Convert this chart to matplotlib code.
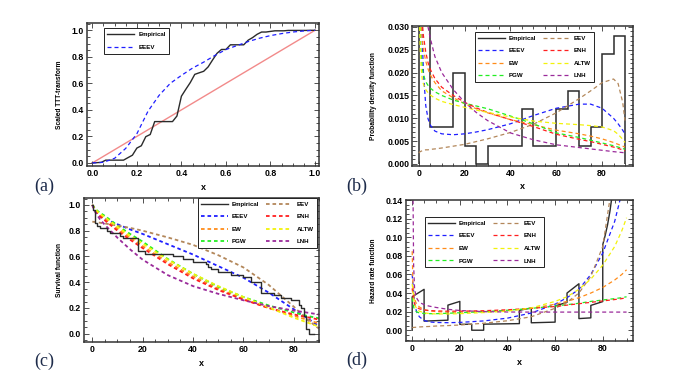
import matplotlib
matplotlib.use('Agg')
import matplotlib.pyplot as plt
from matplotlib.ticker import MultipleLocator, FormatStrFormatter
from matplotlib.lines import Line2D

plt.rcParams['font.family'] = ['Liberation Sans', 'DejaVu Sans']

# ---------------- (a) scaled TTT transform ----------------
ttt_emp_x = [i / 50 for i in range(51)]
ttt_emp_y = [0, 0.0022, 0.0043, 0.0211, 0.0211, 0.0211, 0.0211, 0.0211, 0.0400, 0.0584,
             0.1122, 0.1297, 0.1980, 0.2146, 0.3118, 0.3118, 0.3118, 0.3118, 0.3118, 0.3539,
             0.5031, 0.5557, 0.6064, 0.6677, 0.6796, 0.6909, 0.7238, 0.7763, 0.8266, 0.8555,
             0.8555, 0.8906, 0.8906, 0.8906, 0.8906, 0.9256, 0.9453, 0.9698, 0.9869, 0.9869,
             0.9917, 0.9961, 0.9961, 0.9961, 0.9991, 0.9991, 0.9991, 0.9991, 0.9991, 1.0, 1.0]
ttt_fit_x = [0, 0.05, 0.1, 0.15, 0.2, 0.25, 0.3, 0.35, 0.4, 0.45, 0.5, 0.55, 0.6, 0.65, 0.7,
             0.75, 0.8, 0.85, 0.9, 0.95, 1.0]
ttt_eeev = [0, 0.005, 0.035, 0.11, 0.22, 0.39, 0.51, 0.60, 0.66, 0.715, 0.76, 0.81, 0.855,
            0.885, 0.915, 0.94, 0.96, 0.975, 0.987, 0.995, 1.0]
diag_x = [0, 1]
diag_y = [0, 1]

# ---------------- (b) density ----------------
hist_edges = [0, 5, 10, 15, 20, 25, 30, 35, 40, 45, 50, 55, 60, 65, 70, 75, 80, 85, 90]
hist_dens = [0.036, 0.008, 0.008, 0.020, 0.004, 0.0, 0.004, 0.004, 0.004, 0.012, 0.004,
             0.004, 0.012, 0.016, 0.004, 0.008, 0.024, 0.028]
pdf_x = [0, 0.3, 0.6, 1, 1.5, 2, 3, 4, 5, 7, 10, 15, 20, 25, 30, 40, 50, 60, 70, 75, 80, 85, 87, 89, 90]
pdf_eeev = [0.3, 0.09, 0.06, 0.04, 0.027, 0.02, 0.0128, 0.0099, 0.0085, 0.0072, 0.0066, 0.0064,
            0.0066, 0.0070, 0.0075, 0.0088, 0.0106, 0.0122, 0.0131, 0.0131, 0.0122, 0.0100,
            0.0088, 0.0074, 0.0066]
pdf_eev = [0.0024, 0.0026, 0.0027, 0.0028, 0.0029, 0.0030, 0.0031, 0.0031, 0.0032, 0.0033,
           0.0035, 0.0039, 0.0043, 0.0049, 0.0055, 0.0069, 0.0087, 0.0112, 0.0143, 0.0160,
           0.0178, 0.0186, 0.0176, 0.0135, 0.0095]
pdf_ew = [0.2, 0.05, 0.038, 0.031, 0.027, 0.025, 0.0225, 0.0208, 0.0195, 0.0178, 0.016, 0.0145,
          0.0132, 0.0121, 0.0112, 0.0097, 0.0086, 0.0074, 0.0066, 0.0061, 0.0055, 0.0047,
          0.0043, 0.0039, 0.0037]
pdf_enh = [0.2, 0.06, 0.045, 0.036, 0.031, 0.028, 0.0245, 0.0222, 0.0207, 0.0187, 0.0168, 0.015,
           0.0135, 0.0123, 0.0113, 0.0097, 0.0082, 0.0065, 0.0054, 0.0049, 0.0043, 0.0037,
           0.0034, 0.0031, 0.0029]
pdf_pgw = [0.2, 0.035, 0.028, 0.024, 0.021, 0.0195, 0.018, 0.0172, 0.0166, 0.0158, 0.015, 0.014,
           0.0133, 0.0127, 0.0121, 0.0105, 0.0088, 0.0068, 0.0058, 0.0052, 0.0046, 0.0040,
           0.0037, 0.0034, 0.0032]
pdf_altw = [0.2, 0.032, 0.025, 0.021, 0.0185, 0.0175, 0.0163, 0.0156, 0.0151, 0.0144, 0.0137,
            0.013, 0.0124, 0.0118, 0.0113, 0.0103, 0.0094, 0.0089, 0.0086, 0.0084, 0.0081,
            0.0073, 0.0065, 0.0054, 0.0047]
pdf_lnh = [0.3, 0.12, 0.075, 0.055, 0.045, 0.04, 0.034, 0.030, 0.0275, 0.0235, 0.0200, 0.0163,
           0.0135, 0.0113, 0.0095, 0.0068, 0.0053, 0.0042, 0.0036, 0.0033, 0.0030, 0.0027,
           0.0026, 0.0025, 0.0024]

# ---------------- (c) survival ----------------
surv_emp_x = [0, 0.1, 0.2, 1, 2, 3, 6, 7, 11, 12, 18, 21, 32, 36, 40, 45, 46, 47, 50, 55, 60,
              63, 67, 72, 75, 79, 82, 83, 84, 85, 86, 88]
surv_emp_y = [1, 0.98, 0.96, 0.86, 0.84, 0.82, 0.80, 0.78, 0.76, 0.74, 0.64, 0.62, 0.60, 0.58,
              0.56, 0.54, 0.52, 0.50, 0.48, 0.46, 0.44, 0.40, 0.32, 0.30, 0.28, 0.26, 0.22,
              0.20, 0.14, 0.04, 0.0, 0.0]
sf_x = [0, 1, 2, 3, 5, 10, 15, 20, 30, 40, 50, 60, 70, 80, 85, 90]
sf_eeev = [1.0, 0.96, 0.935, 0.915, 0.89, 0.85, 0.81, 0.775, 0.695, 0.615, 0.525, 0.435, 0.32, 0.19, 0.125, 0.06]
sf_eev = [0.87, 0.868, 0.865, 0.862, 0.856, 0.84, 0.822, 0.80, 0.748, 0.69, 0.61, 0.515, 0.38, 0.21, 0.115, 0.04]
sf_ew = [1.0, 0.965, 0.94, 0.92, 0.89, 0.815, 0.745, 0.68, 0.555, 0.445, 0.35, 0.27, 0.2, 0.14, 0.11, 0.08]
sf_enh = [1.0, 0.96, 0.935, 0.912, 0.88, 0.80, 0.73, 0.665, 0.54, 0.43, 0.34, 0.265, 0.2, 0.15, 0.13, 0.11]
sf_pgw = [1.0, 0.975, 0.955, 0.94, 0.915, 0.84, 0.775, 0.715, 0.58, 0.465, 0.365, 0.285, 0.22, 0.165, 0.14, 0.12]
sf_altw = [1.0, 0.97, 0.95, 0.932, 0.905, 0.83, 0.76, 0.70, 0.575, 0.465, 0.37, 0.285, 0.205, 0.125, 0.09, 0.055]
sf_lnh = [1.0, 0.95, 0.92, 0.89, 0.845, 0.745, 0.655, 0.575, 0.455, 0.37, 0.31, 0.26, 0.215, 0.18, 0.165, 0.15]

# ---------------- (d) hazard ----------------
haz_emp_x = [0, 0, 5, 5, 15, 15, 20, 20, 25, 25, 30, 30, 45, 45, 50, 50, 60, 60, 65, 65, 70, 70,
             75, 75, 80, 80, 81, 82, 83, 84]
haz_emp_y = [0, 0.036, 0.044, 0.0098, 0.0108, 0.027, 0.031, 0.0063, 0.0065, 0, 0, 0.0065,
             0.0071, 0.0214, 0.024, 0.008, 0.0087, 0.0261, 0.030, 0.040, 0.050, 0.0125, 0.0133,
             0.0267, 0.0308, 0.092, 0.1017, 0.1132, 0.1277, 0.1463]
hz_x = [0, 0.3, 0.6, 1, 1.5, 2, 3, 5, 7, 10, 15, 20, 30, 40, 50, 60, 65, 70, 75, 80, 85, 88, 90]
hz_eeev = [0.06, 0.05, 0.042, 0.03, 0.023, 0.019, 0.0145, 0.0105, 0.009, 0.0083, 0.0081, 0.0084,
           0.0100, 0.0130, 0.0185, 0.028, 0.035, 0.044, 0.060, 0.083, 0.117, 0.148, 0.17]
hz_eev = [0.0028, 0.0029, 0.0030, 0.0031, 0.0032, 0.0033, 0.0035, 0.0038, 0.004, 0.0045, 0.005,
          0.0056, 0.0075, 0.0102, 0.0145, 0.0236, 0.030, 0.040, 0.058, 0.09, 0.175, 0.25, 0.3]
hz_ew = [0.085, 0.05, 0.04, 0.034, 0.03, 0.028, 0.025, 0.022, 0.021, 0.020, 0.0195, 0.0195,
         0.0198, 0.0212, 0.0235, 0.028, 0.031, 0.035, 0.040, 0.046, 0.054, 0.06, 0.065]
hz_enh = [0.045, 0.038, 0.032, 0.028, 0.026, 0.0245, 0.023, 0.0218, 0.0212, 0.0208, 0.0205,
          0.0205, 0.021, 0.022, 0.0235, 0.0255, 0.027, 0.0285, 0.030, 0.0315, 0.033, 0.034, 0.035]
hz_pgw = [0.035, 0.03, 0.025, 0.022, 0.0205, 0.0195, 0.0187, 0.018, 0.0178, 0.0178, 0.0182,
          0.0188, 0.02, 0.0215, 0.0235, 0.026, 0.0275, 0.029, 0.031, 0.0325, 0.034, 0.035, 0.036]
hz_altw = [0.05, 0.042, 0.036, 0.029, 0.025, 0.0225, 0.0205, 0.0188, 0.018, 0.0175, 0.0175,
           0.0178, 0.019, 0.0205, 0.024, 0.031, 0.036, 0.044, 0.055, 0.07, 0.09, 0.107, 0.121]
hz_lnh = [0.2, 0.16, 0.07, 0.045, 0.038, 0.034, 0.030, 0.0275, 0.026, 0.0245, 0.0225, 0.0212,
          0.0200, 0.0196, 0.0195, 0.0195, 0.0195, 0.0195, 0.0195, 0.0195, 0.0195, 0.0195, 0.0195]

model_names = ['EEEV', 'EW', 'PGW', 'EEV', 'ENH', 'ALTW', 'LNH']
model_colors = {'EEEV': '#1f1fff', 'EW': '#ff8c1a', 'PGW': '#22ee22', 'EEV': '#b3875a',
                'ENH': '#ff1f1f', 'ALTW': '#f2f20a', 'LNH': '#9a2a9a'}
EMP_C = '#2b2b2b'

W, H = 675, 375
fig = plt.figure(figsize=(6.75, 3.75), dpi=100)


def add_ax(l, r, t, b):
    return fig.add_axes([l / W, 1 - b / H, (r - l) / W, (b - t) / H])


def style(ax, xmaj, xmin, ymaj, ymin, xfmt, yfmt):
    ax.xaxis.set_major_locator(MultipleLocator(xmaj))
    ax.xaxis.set_minor_locator(MultipleLocator(xmin))
    ax.yaxis.set_major_locator(MultipleLocator(ymaj))
    ax.yaxis.set_minor_locator(MultipleLocator(ymin))
    ax.xaxis.set_major_formatter(FormatStrFormatter(xfmt))
    ax.yaxis.set_major_formatter(FormatStrFormatter(yfmt))
    ax.tick_params(which='both', direction='in', top=True, right=True, labelsize=6.3,
                   pad=2, color='#333333', width=0.6)
    ax.tick_params(which='major', length=3.5)
    ax.tick_params(which='minor', length=2)
    for s in ax.spines.values():
        s.set_linewidth(1.1)
        s.set_color('#333333')
    for lab in ax.get_xticklabels() + ax.get_yticklabels():
        lab.set_fontweight('bold')


def labels(ax, ylab, ylx, xly):
    ax.set_ylabel(ylab, fontsize=4.8, fontweight='bold')
    ax.yaxis.set_label_coords(ylx, 0.5)
    ax.set_xlabel('x', fontsize=6.5, fontweight='bold')
    ax.xaxis.set_label_coords(0.5, xly)
    ax.xaxis.label.set_va('center')


def model_handle(name, lw=0.9, dashes=(3.2, 2.4)):
    return Line2D([], [], color=model_colors[name], lw=lw, dashes=dashes)


def legend8(ax, x0, y1, lw=0.9, dashes=(3.2, 2.4)):
    order = ['Empirical', 'EEEV', 'EW', 'PGW', 'EEV', 'ENH', 'ALTW', 'LNH']
    hs = []
    for n in order:
        if n == 'Empirical':
            hs.append(Line2D([], [], color=EMP_C, lw=1.0))
        else:
            hs.append(model_handle(n, lw, dashes))
    leg = ax.legend(hs, order, ncol=2, loc='upper left', bbox_to_anchor=(x0, y1),
                    borderaxespad=0, frameon=True, fancybox=False, edgecolor='#222222',
                    framealpha=1, prop={'size': 4.4, 'weight': 'bold'}, handlelength=4.3,
                    handletextpad=0.7, columnspacing=1.1, labelspacing=1.2, borderpad=0.55)
    leg.get_frame().set_linewidth(0.7)
    return leg


# ---------- panel (a) ----------
axa = add_ax(87, 319, 23, 166)
axa.plot(diag_x, diag_y, color='#f28a8a', lw=1.0)
axa.plot(ttt_emp_x, ttt_emp_y, color=EMP_C, lw=1.0)
axa.plot(ttt_fit_x, ttt_eeev, color=model_colors['EEEV'], lw=0.9, dashes=(3.2, 2.4))
axa.set_xlim(-0.024, 1.018)
axa.set_ylim(-0.023, 1.055)
style(axa, 0.2, 0.05, 0.2, 0.05, '%.1f', '%.1f')
labels(axa, 'Scaled TTT-transform', -0.103, -0.147)
lega = axa.legend([Line2D([], [], color=EMP_C, lw=1.0), model_handle('EEEV')],
                  ['Empirical', 'EEEV'], loc='upper left', bbox_to_anchor=(0.073, 0.965),
                  borderaxespad=0, frameon=True, fancybox=False, edgecolor='#222222',
                  framealpha=1, prop={'size': 4.4, 'weight': 'bold'}, handlelength=4.4,
                  handletextpad=0.7, labelspacing=1.35, borderpad=0.55)
lega.get_frame().set_linewidth(0.7)

# ---------- panel (b) ----------
axb = add_ax(412, 633, 26, 166)
axb.stairs(hist_dens, hist_edges, baseline=0, color=EMP_C, lw=1.1)
pdfs = {'EEEV': pdf_eeev, 'EW': pdf_ew, 'PGW': pdf_pgw, 'EEV': pdf_eev, 'ENH': pdf_enh,
        'ALTW': pdf_altw, 'LNH': pdf_lnh}
for n in model_names:
    axb.plot(pdf_x, pdfs[n], color=model_colors[n], lw=0.9, dashes=(3.2, 2.4))
axb.set_xlim(-3.0, 93.5)
axb.set_ylim(-0.00044, 0.0302)
style(axb, 20, 5, 0.005, 0.001, '%d', '%.3f')
labels(axb, 'Probability density function', -0.158, -0.147)
legend8(axb, 0.285, 0.957)

# ---------- panel (c) ----------
axc = add_ax(84, 319, 198, 342)
sfs = {'EEEV': sf_eeev, 'EW': sf_ew, 'PGW': sf_pgw, 'EEV': sf_eev, 'ENH': sf_enh,
       'ALTW': sf_altw, 'LNH': sf_lnh}
for n in model_names:
    axc.plot(sf_x, sfs[n], color=model_colors[n], lw=1.3, dashes=(2.0, 1.6))
axc.step(surv_emp_x, surv_emp_y, where='post', color=EMP_C, lw=1.0)
axc.set_xlim(-3.3, 90)
axc.set_ylim(-0.064, 1.054)
style(axc, 20, 5, 0.2, 0.05, '%d', '%.1f')
labels(axc, 'Survival function', -0.089, -0.146)
legend8(axc, 0.485, 1.0, lw=1.3, dashes=(2.0, 1.6))

# ---------- panel (d) ----------
axd = add_ax(406, 633, 200, 341)
hzs = {'EEEV': hz_eeev, 'EW': hz_ew, 'PGW': hz_pgw, 'EEV': hz_eev, 'ENH': hz_enh,
       'ALTW': hz_altw, 'LNH': hz_lnh}
axd.plot(haz_emp_x, haz_emp_y, color=EMP_C, lw=1.0)
for n in model_names:
    axd.plot(hz_x, hzs[n], color=model_colors[n], lw=0.9, dashes=(3.2, 2.4))
axd.set_xlim(-2.6, 92.7)
axd.set_ylim(-0.0116, 0.1401)
style(axd, 20, 5, 0.02, 0.005, '%d', '%.2f')
labels(axd, 'Hazard rate function', -0.128, -0.15)
legend8(axd, 0.084, 0.879)

# ---------- panel letters ----------
for txt, x, y in [('(a)', 34, 186.5), ('(b)', 346, 186.5), ('(c)', 34, 361.5), ('(d)', 346, 360)]:
    fig.text(x / W, 1 - y / H, txt, fontsize=13, family=['Liberation Serif', 'DejaVu Serif'],
             color='#1d2b4a', ha='left', va='center')

fig.savefig('out.png', dpi=100)
